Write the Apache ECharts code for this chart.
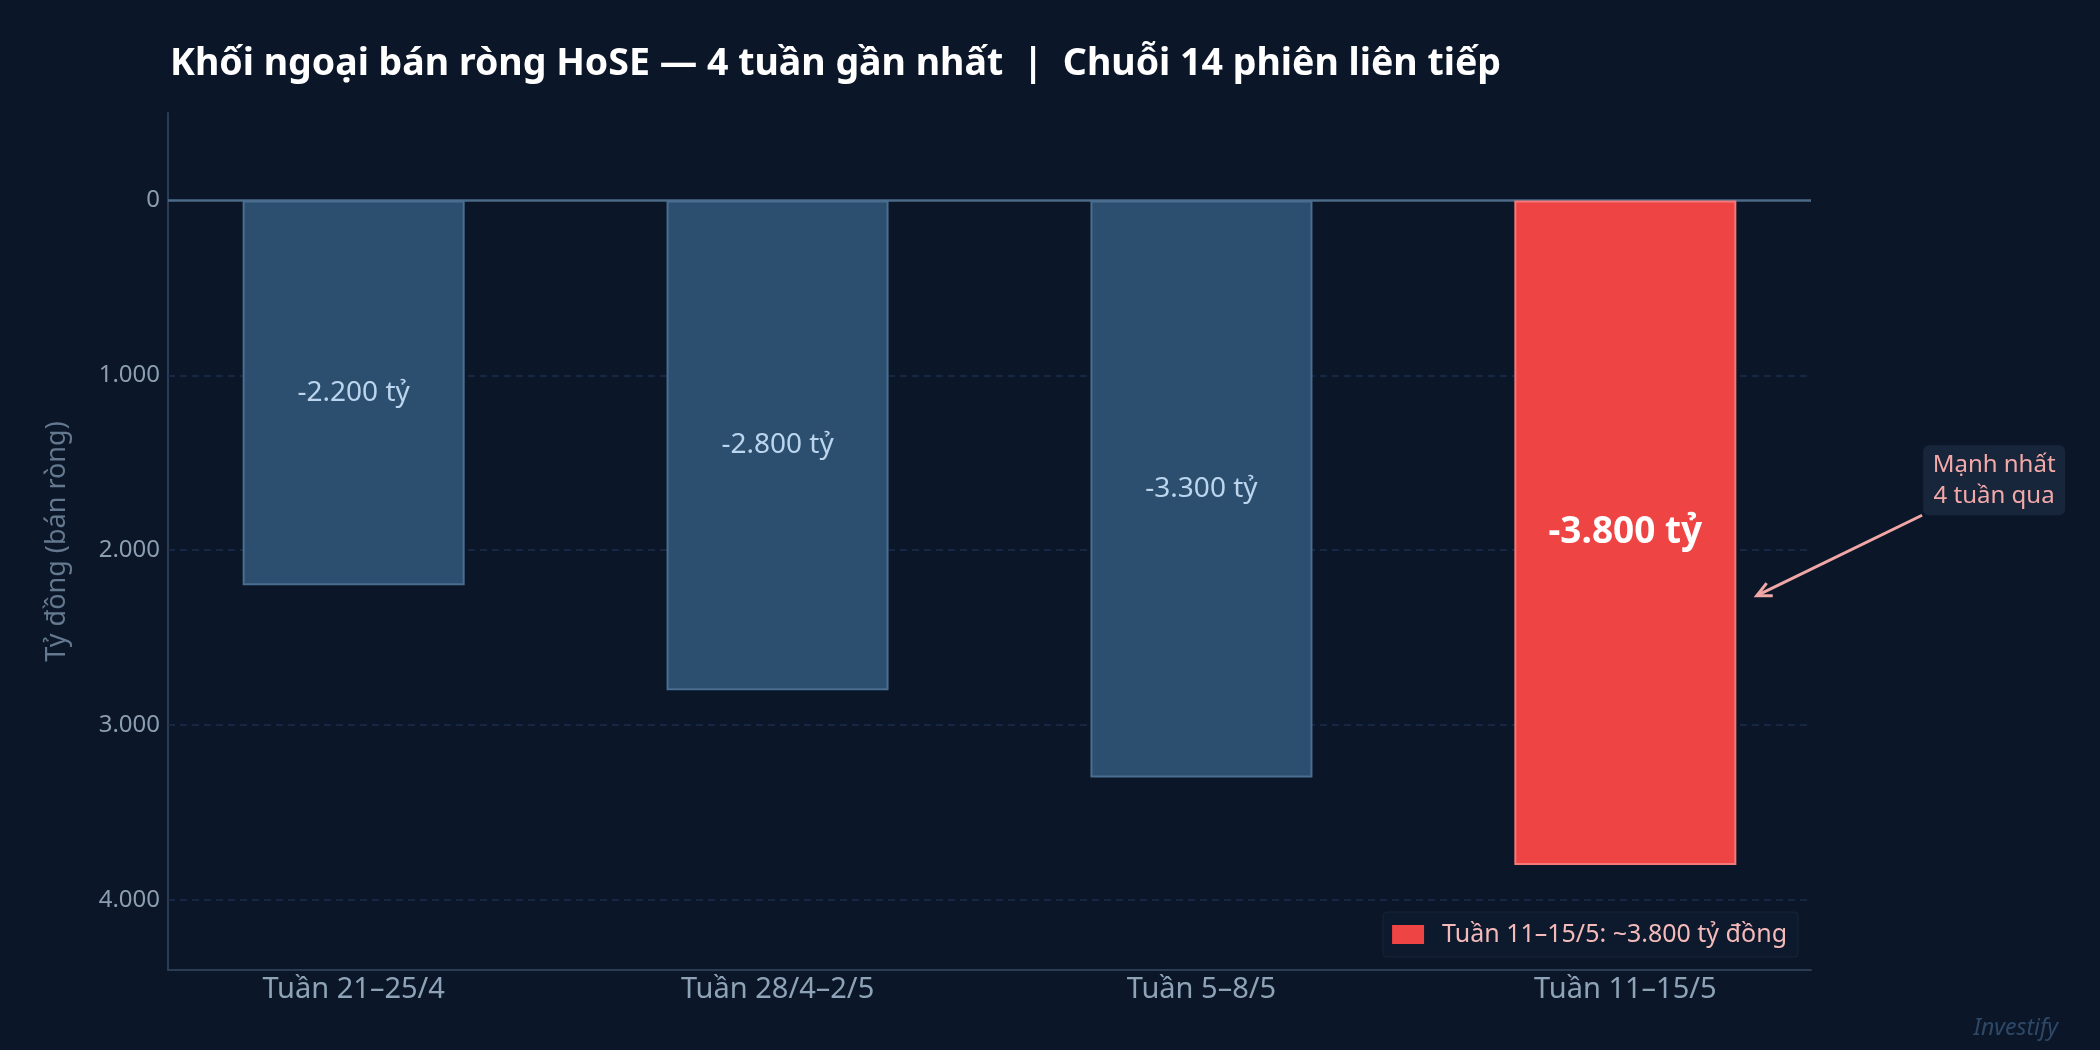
<!DOCTYPE html>
<html>
<head>
<meta charset="utf-8">
<script src="https://cdn.jsdelivr.net/npm/echarts@6/dist/echarts.min.js"></script>
<style>
html, body { margin: 0; padding: 0; background: #0b1728; }
#main { width: 2100px; height: 1050px; }
</style>
</head>
<body>
<div id="main"></div>
<script>
// du lieu: khoi ngoai ban rong 4 tuan (ty dong)
var weeks = ['Tuần 21–25/4', 'Tuần 28/4–2/5', 'Tuần 5–8/5', 'Tuần 11–15/5'];
var netSell = [-2200, -2800, -3300, -3800];
var gridTicks = [-1000, -2000, -3000, -4000];
var hotIdx = 3;
var legendName = 'Tuần 11–15/5: ~3.800 tỷ đồng';

var FONT = 'Noto Sans';

function fmt(v) {
    var s = Math.abs(v).toString().replace(/\B(?=(\d{3})+(?!\d))/g, '.');
    return (v < 0 ? '-' : '') + s;
}

var blueData = [], redData = [];
netSell.forEach(function (v, i) {
    if (i === hotIdx) redData.push([i, v]);
    else blueData.push([i, v]);
});

var myChart = echarts.init(document.getElementById('main'));

var markData = [{ yAxis: 0, lineStyle: { type: 'solid', color: '#4d6a88', width: 2.5 } }];
gridTicks.forEach(function (t) {
    markData.push({ yAxis: t });
});

var option = {
    backgroundColor: '#0b1728',
    title: {
        text: 'Khối ngoại bán ròng HoSE — 4 tuần gần nhất  |  Chuỗi 14 phiên liên tiếp',
        left: 170,
        top: 40,
        padding: 0,
        textStyle: { color: '#ffffff', fontSize: 37.5, fontWeight: 'bold', fontFamily: FONT, lineHeight: 48 }
    },
    legend: {
        data: [legendName],
        right: 302,
        top: 912,
        icon: 'rect',
        itemWidth: 32,
        itemHeight: 19,
        padding: [10, 11, 10, 9],
        backgroundColor: '#0d192c',
        borderColor: '#17243a',
        borderWidth: 1,
        borderRadius: 4,
        selectedMode: false,
        itemStyle: { borderWidth: 0 },
        textStyle: { color: '#f4baba', fontSize: 25, fontFamily: FONT, padding: [0, 0, 0, 13] }
    },
    grid: { left: 168, right: 289, top: 113, bottom: 80 },
    xAxis: {
        type: 'value',
        min: -0.438,
        max: 3.438,
        minInterval: 1,
        maxInterval: 1,
        axisLine: { show: true, onZero: false, lineStyle: { color: '#2b3d55', width: 2 } },
        axisTick: { show: false },
        splitLine: { show: false },
        axisLabel: {
            margin: 5,
            color: '#8fa3b8',
            fontSize: 29,
            fontFamily: FONT,
            showMinLabel: false,
            showMaxLabel: false,
            formatter: function (v) {
                return Number.isInteger(v) && weeks[v] ? weeks[v] : '';
            }
        }
    },
    yAxis: {
        type: 'value',
        min: -4400,
        max: 500,
        name: 'Tỷ đồng (bán ròng)',
        nameLocation: 'middle',
        nameGap: 97,
        nameTextStyle: { color: '#64788f', fontSize: 27, fontFamily: FONT },
        axisLine: { show: true, onZero: false, lineStyle: { color: '#2b3d55', width: 2 } },
        axisTick: { show: false },
        splitLine: { show: false },
        axisLabel: {
            margin: 8,
            color: '#8d9eb3',
            fontSize: 24,
            fontFamily: FONT,
            showMinLabel: false,
            showMaxLabel: false,
            formatter: function (v) {
                return v % 1000 === 0 ? fmt(Math.abs(v)) : '';
            }
        }
    },
    series: [
        {
            name: 'Các tuần trước',
            type: 'bar',
            data: blueData,
            barWidth: 222,
            barGap: '-100%',
            z: 3,
            itemStyle: { color: '#2c4f6f', borderColor: '#4a6e90', borderWidth: 2 },
            label: {
                show: true,
                position: 'inside',
                color: '#bcd5ee',
                fontSize: 28,
                fontFamily: FONT,
                formatter: function (p) { return fmt(p.value[1]) + ' tỷ'; }
            },
            markLine: {
                silent: true,
                symbol: 'none',
                z: 1,
                label: { show: false },
                lineStyle: { type: [7, 5], color: '#1c2e4b', width: 1.5 },
                data: markData
            }
        },
        {
            name: legendName,
            type: 'bar',
            data: redData,
            barWidth: 222,
            barGap: '-100%',
            z: 3,
            itemStyle: { color: '#ef4444', borderColor: '#f47a7a', borderWidth: 2 },
            label: {
                show: true,
                position: 'inside',
                color: '#ffffff',
                fontSize: 37,
                fontWeight: 'bold',
                fontFamily: FONT,
                formatter: function (p) { return fmt(p.value[1]) + ' tỷ'; }
            }
        }
    ]
};

myChart.setOption(option);

// chu thich "Manh nhat 4 tuan qua" + mui ten, dat theo toa do du lieu
var tip = myChart.convertToPixel({ gridIndex: 0 }, [3.31, -2260]);
var tail = myChart.convertToPixel({ gridIndex: 0 }, [3.70, -1800]);
var boxC = myChart.convertToPixel({ gridIndex: 0 }, [3.87, -1600]);

var dx = tail[0] - tip[0], dy = tail[1] - tip[1];
var len = Math.sqrt(dx * dx + dy * dy);
dx /= len; dy /= len;
var hl = 16, ang = 0.45;
function rot(x, y, a) { return [x * Math.cos(a) - y * Math.sin(a), x * Math.sin(a) + y * Math.cos(a)]; }
var h1 = rot(dx, dy, ang), h2 = rot(dx, dy, -ang);

myChart.setOption({
    graphic: [
        {
            type: 'rect',
            shape: { x: boxC[0] - 71, y: boxC[1] - 35, width: 142, height: 70, r: 6 },
            style: { fill: '#18263c' },
            z: 10
        },
        {
            type: 'text',
            x: boxC[0],
            y: boxC[1],
            z: 11,
            style: {
                text: 'Mạnh nhất\n4 tuần qua',
                fill: '#f4a9a9',
                fontSize: 24,
                fontFamily: FONT,
                lineHeight: 31,
                align: 'center',
                verticalAlign: 'middle'
            }
        },
        {
            type: 'line',
            z: 10,
            shape: { x1: tail[0], y1: tail[1], x2: tip[0], y2: tip[1] },
            style: { stroke: '#f2a7a7', lineWidth: 3 }
        },
        {
            type: 'polyline',
            z: 10,
            shape: { points: [[tip[0] + h1[0] * hl, tip[1] + h1[1] * hl], tip, [tip[0] + h2[0] * hl, tip[1] + h2[1] * hl]] },
            style: { stroke: '#f2a7a7', lineWidth: 3, fill: null }
        },
        {
            type: 'text',
            right: 42,
            bottom: 10,
            style: {
                text: 'Investify',
                fill: '#2e4868',
                fontSize: 23,
                fontStyle: 'italic',
                fontFamily: FONT
            }
        }
    ]
});
</script>
</body>
</html>
